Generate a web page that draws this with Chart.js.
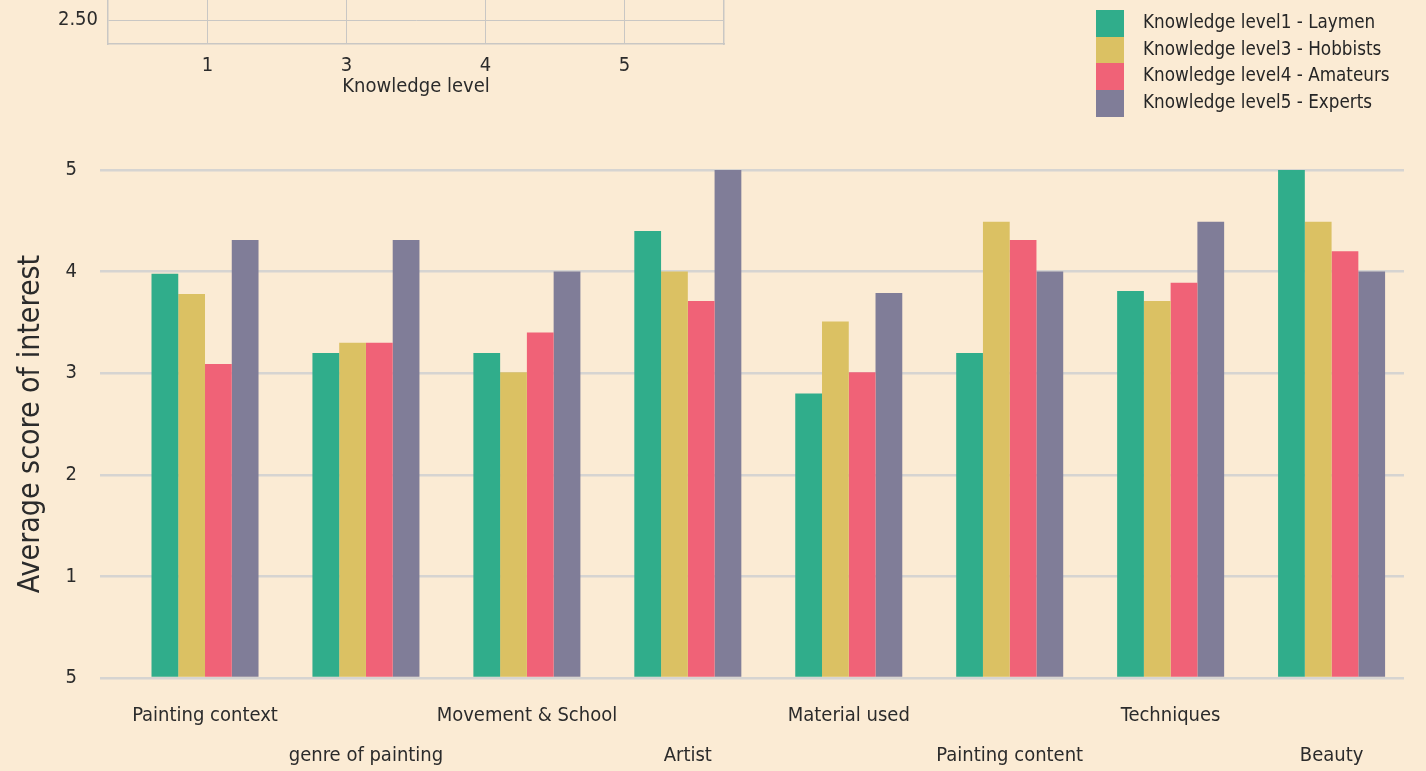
<!DOCTYPE html>
<html>
<head>
<meta charset="utf-8">
<script src="https://cdn.jsdelivr.net/npm/chart.js@4/dist/chart.umd.min.js"></script>
<style>
  html, body { margin: 0; padding: 0; background: #fbebd4; overflow: hidden; }
  #page { position: relative; width: 1426px; height: 771px; overflow: hidden; }
  #main { position: absolute; left: 0; top: 0; }
  #inset { position: absolute; left: 0; top: -300px; }
  #legend {
    position: absolute; left: 1096px; top: 10px;
    font-family: 'DejaVu Sans Condensed', 'Liberation Sans', sans-serif;
    font-size: 18.7px; color: #262626;
  }
  #legend .item { display: flex; align-items: center; height: 26.7px; }
  #legend .box { width: 28px; height: 26.7px; margin-right: 19px; }
  #legend .label { position: relative; top: -2px; }
</style>
</head>
<body>
<div id="page">
  <canvas id="main" width="1426" height="780"></canvas>
  <canvas id="inset" width="760" height="400"></canvas>
  <div id="legend"></div>
</div>
<script>
const categories = [
  "Painting context", "genre of painting", "Movement & School", "Artist",
  "Material used", "Painting content", "Techniques", "Beauty"
];
const seriesNames = [
  "Knowledge level1 - Laymen",
  "Knowledge level3 - Hobbists",
  "Knowledge level4 - Amateurs",
  "Knowledge level5 - Experts"
];
const seriesColors = ["#30ad8b", "#dbc163", "#f06277", "#807d98"];

// average score of interest per category
const laymen   = [3.98, 3.20, 3.20, 4.40, 2.80, 3.20, 3.81, 5.00];
const hobbists = [3.78, 3.30, 3.01, 4.00, 3.51, 4.49, 3.71, 4.49];
const amateurs = [3.09, 3.30, 3.40, 3.71, 3.01, 4.31, 3.89, 4.20];
const experts  = [4.31, 4.31, 4.00, 5.00, 3.79, 4.00, 4.49, 4.00];
const seriesValues = [laymen, hobbists, amateurs, experts];

// y tick labels, bottom to top (as printed on the original)
const yTickLabels = ["5", "1", "2", "3", "4", "5"];

// the panel cut off at the top
const insetLevels = ["1", "3", "4", "5"];
const insetYTicks = ["2.50", "2.75", "3.00", "3.25", "3.50"];

const FONT = "'DejaVu Sans Condensed', 'Liberation Sans', sans-serif";
const TEXT = "#2b2b2b";
Chart.defaults.font.family = FONT;
Chart.defaults.color = TEXT;

new Chart(document.getElementById("main"), {
  type: "bar",
  data: {
    datasets: seriesNames.map((name, s) => ({
      label: name,
      data: seriesValues[s].map((v, i) => ({ x: i, y: v })),
      backgroundColor: seriesColors[s],
      borderWidth: 0
    }))
  },
  options: {
    responsive: false,
    animation: false,
    layout: { padding: { top: 170, left: 9, right: 22, bottom: 4 } },
    datasets: { bar: { categoryPercentage: 0.665, barPercentage: 1 } },
    plugins: { legend: { display: false }, tooltip: { enabled: false } },
    scales: {
      x: {
        type: "linear",
        min: -0.6525,
        max: 7.45,
        offset: false,
        afterFit: (s) => { s.height = 98; },
        grid: { display: false, offset: false, drawTicks: false, tickLength: 0 },
        border: { display: false },
        ticks: {
          stepSize: 1,
          includeBounds: false,
          autoSkip: false,
          maxRotation: 0,
          padding: 18,
          color: TEXT,
          font: { size: 20, lineHeight: "40px" },
          callback: (v) => {
            const i = Math.round(v);
            const name = categories[i] || "";
            return i % 2 === 0 ? [name, ""] : ["", name];
          }
        }
      },
      y: {
        min: 0,
        max: 5,
        afterFit: (s) => { s.width = 91; },
        grid: { color: "#d6d4d1", lineWidth: 2.5, drawTicks: false, tickLength: 0 },
        border: { display: false },
        ticks: {
          stepSize: 1,
          padding: 23,
          color: TEXT,
          font: { size: 20 },
          callback: (v, i) => yTickLabels[i]
        },
        title: {
          display: true,
          text: "Average score of interest",
          color: TEXT,
          font: { size: 30 },
          padding: { top: 4, bottom: 4 }
        }
      }
    }
  }
});

new Chart(document.getElementById("inset"), {
  type: "scatter",
  data: { datasets: [] },
  options: {
    responsive: false,
    animation: false,
    layout: { padding: { top: 20, left: 0, right: 36, bottom: 0.8 } },
    plugins: { legend: { display: false }, tooltip: { enabled: false } },
    scales: {
      x: {
        type: "linear",
        min: -0.715,
        max: 3.715,
        afterFit: (s) => { s.height = 55.2; },
        grid: { color: "#c9c7c4", lineWidth: 1, drawTicks: false, tickLength: 0 },
        border: { display: true, color: "#c9c7c4", width: 1.5 },
        ticks: {
          stepSize: 1,
          includeBounds: false,
          autoSkip: false,
          maxRotation: 0,
          padding: 9.6,
          color: TEXT,
          font: { size: 20 },
          callback: (v) => insetLevels[Math.round(v)] || ""
        },
        title: {
          display: true,
          text: "Knowledge level",
          color: TEXT,
          font: { size: 20 },
          padding: { top: 0, bottom: 0 }
        }
      },
      y: {
        min: 2.42,
        max: 3.5,
        afterFit: (s) => { s.width = 108; },
        grid: { color: "#c9c7c4", lineWidth: 1, drawTicks: false, tickLength: 0 },
        border: { display: true, color: "#c9c7c4", width: 1.5 },
        ticks: {
          stepSize: 0.25,
          includeBounds: false,
          padding: 10,
          color: TEXT,
          font: { size: 20 },
          callback: (v) => insetYTicks.find((t) => Math.abs(+t - v) < 1e-6) || ""
        }
      },
      y2: {
        position: "right",
        min: 0,
        max: 1,
        grid: { display: false, drawTicks: false },
        border: { display: true, color: "#c9c7c4", width: 1.5 },
        ticks: { display: false }
      }
    }
  }
});

// legend, stacked in the top right corner
const legend = document.getElementById("legend");
legend.innerHTML = seriesNames.map((name, s) => `
  <div class="item">
    <span class="box" style="background:${seriesColors[s]}"></span>
    <span class="label">${name}</span>
  </div>`).join("");
</script>
</body>
</html>
